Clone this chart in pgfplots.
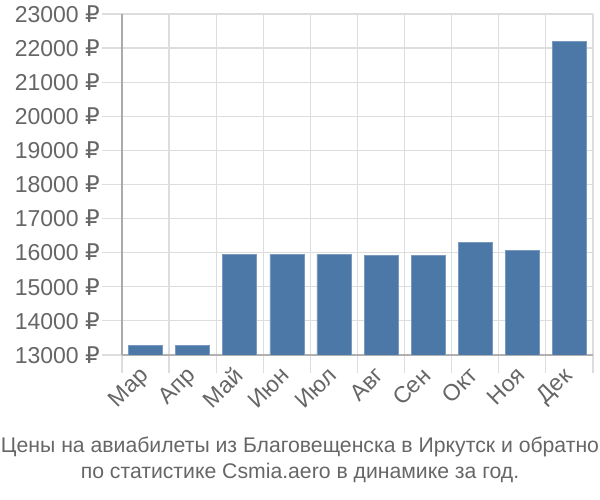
\documentclass[border=0pt]{standalone}
\usepackage{pgfplots}
\pgfplotsset{compat=1.18}
\usepackage{fontspec}
\setmainfont{Liberation Sans}
\newfontfamily\dejavu{DejaVu Sans}
\newcommand{\rub}{{\dejavu ₽}}
\definecolor{barc}{HTML}{4C78A8}
\definecolor{txt}{HTML}{666666}
\definecolor{grd}{HTML}{DDDDDD}
\definecolor{axc}{HTML}{AAAAAA}
\begin{document}
\begin{tikzpicture}[x=1pt,y=1pt]
\useasboundingbox (-122,-145) rectangle (478,355);
\begin{axis}[
 at={(0,0)}, anchor=south west,
 width=471pt, height=341pt, scale only axis,
 xmin=-0.5, xmax=9.5, ymin=13000, ymax=23000,
 scaled y ticks=false,
 xtick={0,...,9},
 xticklabels={Мар,Апр,Май,Июн,Июл,Авг,Сен,Окт,Ноя,Дек},
 minor xtick={-0.5,0.5,...,9.5},
 ytick={13000,14000,...,23000},
 yticklabels={13000 \rub,14000 \rub,15000 \rub,16000 \rub,17000 \rub,18000 \rub,19000 \rub,20000 \rub,21000 \rub,22000 \rub,23000 \rub},
 major x tick style={draw=none},
 minor x tick style={grd, line width=1.2pt},
 y tick style={grd, line width=1.2pt},
 xminorgrids, ymajorgrids,
 grid style={grd, line width=1.2pt},
 minor grid style={grd, line width=1.2pt},
 tick align=outside,
 minor tick length=18pt,
 major tick length=20pt,
 axis x line*=bottom, axis y line*=left,
 x axis line style={draw=grd!80!black, line width=1.2pt, -},
 y axis line style={draw=axc, line width=1.5pt, -},
 ticklabel style={font=\fontsize{23}{27}\selectfont, text=txt},
 yticklabel style={inner sep=2pt},
 xticklabel style={xshift=-7.5pt, yshift=11pt, rotate=45, anchor=north east, inner sep=1pt},
]
\addplot[ybar, bar width=34pt, fill=barc, draw=barc!75!white, line width=0.6pt]
 coordinates {(0,13293) (1,13293) (2,15953) (3,15953) (4,15945) (5,15924) (6,15924) (7,16293) (8,16059) (9,22199)};
\end{axis}
\node[text=txt, font=\fontsize{21.2}{24}\selectfont] at (178,-92) {Цены на авиабилеты из Благовещенска в Иркутск и обратно};
\node[text=txt, font=\fontsize{21.2}{24}\selectfont] at (178,-118) {по статистике Csmia.aero в динамике за год.};
\end{tikzpicture}
\end{document}
